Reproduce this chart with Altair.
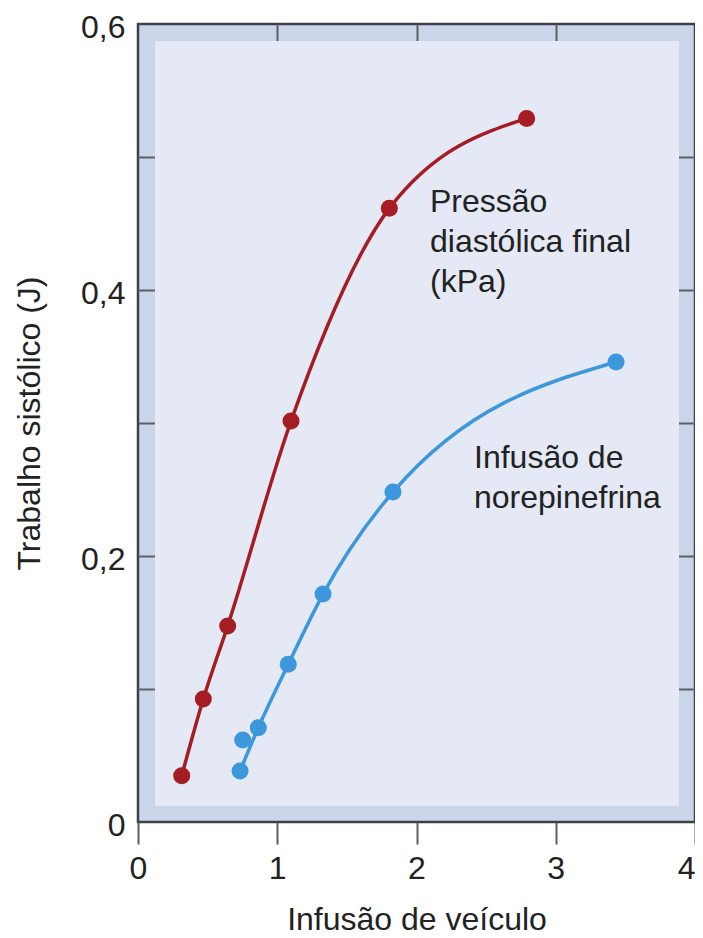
import altair as alt
import pandas as pd

# ---- data ----
red_x = [0.314, 0.469, 0.644, 1.099, 1.805, 2.791]
red_y = [0.0348, 0.0925, 0.1474, 0.3015, 0.4614, 0.529]

blue_x = [0.733, 0.752, 0.864, 1.079, 1.329, 1.831, 3.433]
blue_y = [0.0383, 0.0617, 0.0709, 0.1186, 0.1714, 0.2481, 0.3459]
blue_on_curve = [True, False, True, True, True, True, True]

x_tick_values = [0, 1, 2, 3, 4]
x_top_ticks = [1, 2, 3]
y_label_values = [0, 0.2, 0.4, 0.6]
y_minor_ticks = [0.1, 0.2, 0.3, 0.4, 0.5]

annot_x = [2.097, 2.413]
annot_y = [0.4586, 0.2662]
annot_text = ["Pressão\ndiastólica final\n(kPa)", "Infusão de\nnorepinefrina"]

x_title = "Infusão de veículo"
y_title = "Trabalho sistólico (J)"

# ---- styling ----
W, H = 557, 798
FONT = "Liberation Sans, Arial, Helvetica, sans-serif"
FS = 32
TXT = "#222222"
RED = "#a51c22"
BLUE = "#3d97dc"
BAND = "#cbd5ea"
INNER = "#e4e9f5"
FRAME = "#3c4048"
TICK = "#5a5e66"

red_df = pd.DataFrame({"x": red_x, "y": red_y})
blue_df = pd.DataFrame({"x": blue_x, "y": blue_y, "on_curve": blue_on_curve})
annot_df = pd.DataFrame({"x": annot_x, "y": annot_y, "t": annot_text})

xs = alt.Scale(domain=[0, 4], nice=False, zero=False)
ys = alt.Scale(domain=[0, 0.6], nice=False, zero=False)

main_x_axis = alt.Axis(
    orient="bottom", values=x_tick_values, format="d", domain=False, grid=False,
    ticks=True, tickSize=22, tickColor=TICK, tickWidth=2, labelPadding=9,
    labelFlush=False,
    labelAlign=alt.condition("datum.value == 4", alt.value("right"), alt.value("center")),
    labelFont=FONT, labelFontSize=FS, labelColor=TXT,
    title=x_title, titleFont=FONT, titleFontSize=FS, titleFontWeight="normal",
    titleColor=TXT, titleY=107, titleBaseline="alphabetic", titleAlign="center",
)
main_y_axis = alt.Axis(
    orient="left", values=y_label_values,
    labelExpr="datum.value == 0 ? '0' : replace(format(datum.value, '.1f'), '.', ',')",
    domain=False, grid=False, ticks=False, tickSize=0, labelPadding=13,
    labelOffset=3.5,
    labelFont=FONT, labelFontSize=FS, labelColor=TXT, labelBaseline="middle",
    title=y_title, titleFont=FONT, titleFontSize=FS, titleFontWeight="normal",
    titleColor=TXT, titleAngle=270, titleX=-99, titleY=H / 2,
    titleBaseline="alphabetic", titleAlign="center",
)
top_in_axis = alt.Axis(
    orient="bottom", offset=-H, values=x_top_ticks, labels=False, domain=False,
    grid=False, tickSize=22, tickColor=TICK, tickWidth=2, title=None,
)
left_in_axis = alt.Axis(
    orient="right", offset=-W, values=y_minor_ticks, labels=False, domain=False,
    grid=False, tickSize=22, tickColor=TICK, tickWidth=2, title=None,
)
right_in_axis = alt.Axis(
    orient="left", offset=-W, values=y_minor_ticks, labels=False, domain=False,
    grid=False, tickSize=22, tickColor=TICK, tickWidth=2, title=None,
)

inner = alt.Chart(pd.DataFrame({"a": [0]})).mark_rect(color=INNER).encode(
    x=alt.value(17), x2=alt.value(W - 16), y=alt.value(17), y2=alt.value(H - 16)
)

red_line = alt.Chart(red_df).mark_line(
    color=RED, strokeWidth=3.5, interpolate="monotone"
).encode(
    x=alt.X("x:Q", scale=xs, axis=main_x_axis),
    y=alt.Y("y:Q", scale=ys, axis=main_y_axis),
)
red_pts = alt.Chart(red_df).mark_circle(color=RED, size=290, opacity=1).encode(
    x=alt.X("x:Q", scale=xs, axis=top_in_axis),
    y=alt.Y("y:Q", scale=ys, axis=left_in_axis),
)
blue_line = alt.Chart(blue_df).transform_filter("datum.on_curve").mark_line(
    color=BLUE, strokeWidth=3.5, interpolate="monotone"
).encode(
    x=alt.X("x:Q", scale=xs, axis=None),
    y=alt.Y("y:Q", scale=ys, axis=right_in_axis),
)
blue_pts = alt.Chart(blue_df).mark_circle(color=BLUE, size=290, opacity=1).encode(
    x=alt.X("x:Q", scale=xs, axis=None),
    y=alt.Y("y:Q", scale=ys, axis=None),
)
labels = alt.Chart(annot_df).mark_text(
    align="left", baseline="alphabetic", lineBreak="\n", lineHeight=40,
    font=FONT, fontSize=FS, color=TXT,
).encode(
    x=alt.X("x:Q", scale=xs, axis=None),
    y=alt.Y("y:Q", scale=ys, axis=None),
    text="t:N",
)

chart = alt.layer(
    inner, red_line, blue_line, red_pts, blue_pts, labels
).resolve_axis(
    x="independent", y="independent"
).properties(
    width=W, height=H,
    autosize=alt.AutoSizeParams(type="none"),
    padding={"left": 130, "top": 16, "right": 0, "bottom": 114},
    background="white",
).configure_view(
    fill=BAND, stroke=FRAME, strokeWidth=2.5
)

chart.save("out.html", embed_options={"renderer": "svg", "actions": False})
